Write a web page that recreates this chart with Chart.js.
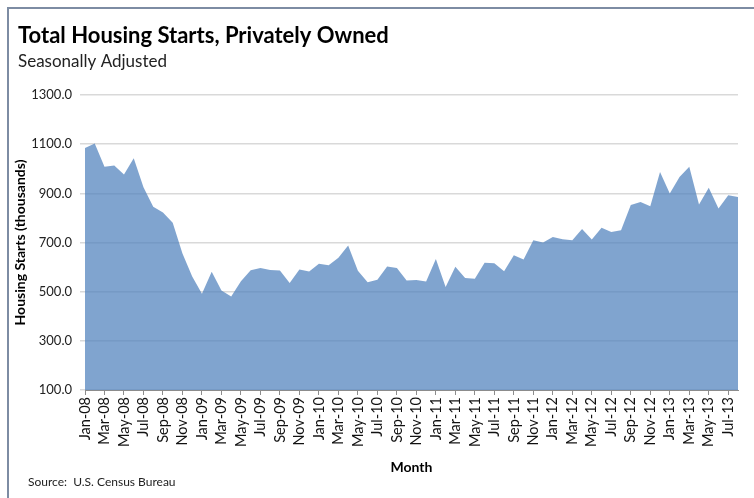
<!DOCTYPE html>
<html>
<head>
<meta charset="utf-8">
<script src="https://cdn.jsdelivr.net/npm/chart.js@4"></script>
<style>
  html, body { margin: 0; padding: 0; background: #fff; }
  #wrap { width: 754px; height: 498px; }
</style>
</head>
<body>
<div id="wrap"><canvas id="startsChart" width="754" height="498"></canvas></div>
<script>
// months Jan-08 .. Aug-13
var monthLabels = ['Jan-08','Feb-08','Mar-08','Apr-08','May-08','Jun-08','Jul-08','Aug-08','Sep-08','Oct-08','Nov-08','Dec-08',
    'Jan-09','Feb-09','Mar-09','Apr-09','May-09','Jun-09','Jul-09','Aug-09','Sep-09','Oct-09','Nov-09','Dec-09',
    'Jan-10','Feb-10','Mar-10','Apr-10','May-10','Jun-10','Jul-10','Aug-10','Sep-10','Oct-10','Nov-10','Dec-10',
    'Jan-11','Feb-11','Mar-11','Apr-11','May-11','Jun-11','Jul-11','Aug-11','Sep-11','Oct-11','Nov-11','Dec-11',
    'Jan-12','Feb-12','Mar-12','Apr-12','May-12','Jun-12','Jul-12','Aug-12','Sep-12','Oct-12','Nov-12','Dec-12',
    'Jan-13','Feb-13','Mar-13','Apr-13','May-13','Jun-13','Jul-13','Aug-13'];

// housing starts, thousands
var housingStarts = [1084,1103,1008,1013,977,1043,925,845,822,780,655,562,
    492,581,505,480,542,587,596,588,586,535,590,582,
    614,607,638,688,585,538,548,602,596,545,547,541,
    633,519,601,556,553,618,616,583,648,631,709,700,
    722,713,709,755,712,760,743,750,853,865,847,987,
    899,966,1008,855,923,838,892,885];

var yTicks = [100, 300, 500, 700, 900, 1100, 1300];

const fontFamily = "Lato, 'Open Sans', sans-serif";

// frame, heading and source note
const decorations = {
    id: 'decorations',
    afterDraw(chart) {
        const ctx = chart.ctx;
        ctx.save();
        ctx.strokeStyle = '#7d8ca3';
        ctx.lineWidth = 2;
        ctx.beginPath();
        ctx.moveTo(8, 498);
        ctx.lineTo(8, 8);
        ctx.lineTo(754, 8);
        ctx.stroke();

        ctx.fillStyle = '#000';
        ctx.textBaseline = 'alphabetic';
        ctx.font = "bold 22px " + fontFamily;
        ctx.fillText('Total Housing Starts, Privately Owned', 18, 43);
        ctx.font = "17px " + fontFamily;
        ctx.fillStyle = '#222';
        ctx.fillText('Seasonally Adjusted', 18, 67);
        ctx.font = "12px " + fontFamily;
        ctx.fillText('Source:  U.S. Census Bureau', 28, 486);
        ctx.restore();
    }
};

const data = {
    labels: monthLabels,
    datasets: [{
        data: housingStarts,
        fill: 'origin',
        backgroundColor: 'rgba(79,129,189,0.72)',
        borderWidth: 0,
        pointRadius: 0,
        tension: 0
    }]
};

const options = {
    responsive: false,
    animation: false,
    layout: { padding: { left: 12, right: 16, top: 95, bottom: 0 } },
    plugins: {
        legend: { display: false },
        tooltip: { enabled: false }
    },
    scales: {
        x: {
            offset: false,
            grid: { drawOnChartArea: false, drawTicks: true, tickLength: 5, color: '#8c8c8c' },
            border: { color: '#8c8c8c' },
            ticks: {
                autoSkip: false,
                maxRotation: 90,
                minRotation: 90,
                padding: 2,
                color: '#111',
                font: { size: 14.5, family: fontFamily }
            },
            afterBuildTicks: axis => {
                axis.ticks = axis.ticks.filter(t => t.value % 2 === 0);
            },
            afterFit: axis => { axis.height = 108; },
            title: {
                display: true,
                text: 'Month',
                color: '#000',
                font: { size: 14, weight: 'bold', family: fontFamily },
                padding: { top: 0, bottom: 22 }
            }
        },
        y: {
            min: 100,
            max: 1300,
            afterBuildTicks: axis => {
                axis.ticks = yTicks.map(v => ({ value: v }));
            },
            grid: { color: '#d9d9d9', tickLength: 5, lineWidth: 1.5 },
            border: { display: false },
            ticks: {
                padding: 8,
                color: '#222',
                font: { size: 13, family: fontFamily },
                callback: v => v.toFixed(1)
            },
            afterFit: axis => { axis.width = 73; },
            title: {
                display: true,
                text: 'Housing Starts (thousands)',
                color: '#000',
                font: { size: 14, weight: 'bold', family: fontFamily },
                padding: { top: 0, bottom: 0 }
            }
        }
    }
};

new Chart('startsChart', { type: 'line', data, options, plugins: [decorations] });
</script>
</body>
</html>
